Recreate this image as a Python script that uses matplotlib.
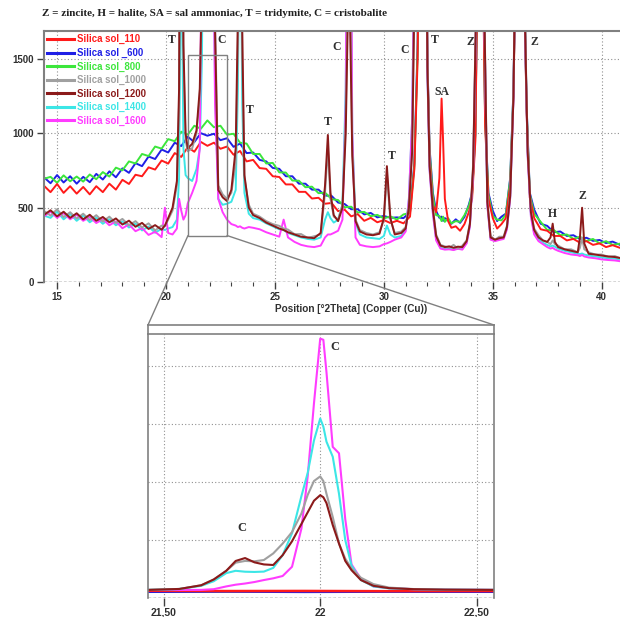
import numpy as np
import matplotlib.pyplot as plt
from matplotlib.patches import Rectangle, ConnectionPatch
from matplotlib.lines import Line2D

# ---- main pattern, amorphous samples (110, 600, 800) ----
tt_low = [14.4, 14.7, 15.0, 15.3, 15.6, 15.9, 16.2, 16.5, 16.8, 17.1,
          17.4, 17.7, 18.0, 18.3, 18.6, 18.9, 19.2, 19.5, 19.8, 20.1,
          20.4, 20.7, 21.0, 21.3, 21.6, 21.9, 22.2, 22.5, 22.8, 23.1,
          23.4, 23.7, 24.0, 24.3, 24.6, 24.9, 25.2, 25.5, 25.8, 26.1,
          26.4, 26.7, 27.0, 27.3, 27.6, 27.9, 28.2, 28.5, 28.8, 29.1,
          29.4, 29.7, 30.0, 30.3, 30.6, 30.9, 31.2, 31.4, 31.55, 31.65,
          31.77, 31.9, 32.0, 32.1, 32.25, 32.4, 32.55, 32.65, 32.72, 32.8,
          32.95, 33.1, 33.3, 33.5, 33.7, 33.9, 34.05, 34.2, 34.3, 34.42,
          34.55, 34.65, 34.8, 35.0, 35.2, 35.4, 35.6, 35.8, 35.95, 36.05,
          36.25, 36.45, 36.55, 36.7, 36.9, 37.2, 37.5, 37.8, 38.1, 38.4,
          38.7, 39.0, 39.3, 39.6, 39.9, 40.2, 40.5, 40.84]

i_110 = [648, 605, 660, 600, 645, 595, 640, 590, 645, 605,
         662, 622, 688, 660, 722, 712, 772, 757, 818, 797,
         868, 842, 908, 877, 943, 917, 938, 897, 912, 857,
         882, 812, 822, 767, 762, 712, 707, 657, 657, 607,
         607, 562, 567, 527, 532, 477, 487, 442, 457, 412,
         432, 402, 417, 397, 412, 395, 440, 760, 1500, 2900,
         9000, 3000, 1500, 850, 520, 470, 700, 1235, 950, 560,
         410, 365, 375, 345, 390, 470, 560, 950, 2100, 9000,
         2100, 1050, 560, 430, 360, 390, 430, 650, 1250, 2150,
         12000, 1950, 1150, 570, 430, 355, 345, 310, 310, 280,
         290, 265, 275, 250, 260, 235, 248, 230]

i_600 = [705, 665, 720, 670, 712, 662, 708, 672, 728, 690,
         745, 705, 765, 735, 800, 780, 845, 828, 892, 872,
         938, 915, 978, 942, 1002, 985, 998, 955, 968, 910,
         932, 868, 872, 822, 812, 768, 762, 712, 712, 662,
         662, 622, 622, 582, 580, 535, 525, 490, 490, 455,
         465, 435, 445, 432, 435, 430, 470, 800, 1600, 3000,
         9000, 3000, 1500, 900, 600, 478, 432, 440, 412, 430,
         418, 392, 422, 398, 438, 520, 600, 1000, 2200, 9000,
         2200, 1100, 600, 480, 410, 440, 460, 700, 1300, 2200,
         12000, 2000, 1200, 600, 488, 392, 378, 335, 340, 310,
         315, 290, 298, 277, 283, 262, 272, 250]

i_800 = [695, 708, 668, 718, 678, 710, 676, 724, 692, 740,
         710, 770, 752, 812, 798, 862, 848, 912, 898, 962,
         948, 1012, 992, 1052, 1032, 1088, 1042, 1052, 992, 998,
         938, 932, 862, 862, 798, 802, 738, 737, 683, 682,
         638, 642, 598, 602, 558, 552, 503, 507, 468, 472,
         443, 452, 428, 442, 420, 455, 465, 780, 1550, 2950,
         9000, 2950, 1450, 880, 580, 450, 445, 410, 440, 405,
         430, 395, 410, 405, 450, 510, 590, 990, 2150, 9000,
         2150, 1080, 590, 445, 420, 415, 455, 690, 1280, 2180,
         12000, 1980, 1180, 590, 460, 405, 350, 350, 315, 320,
         290, 305, 275, 290, 260, 275, 250, 258]

# ---- main pattern, crystallised samples (1000 - 1600) ----
tt_high = [14.4, 14.7, 15.0, 15.3, 15.6, 15.9, 16.2, 16.5, 16.8, 17.1,
           17.4, 17.7, 18.0, 18.3, 18.6, 18.9, 19.2, 19.5, 19.8, 19.95,
           20.1, 20.3, 20.5, 20.6, 20.7, 20.8, 20.9, 21.0, 21.2, 21.4,
           21.55, 21.65, 21.8, 21.95, 22.1, 22.25, 22.4, 22.6, 22.8, 23.0,
           23.2, 23.3, 23.4, 23.5, 23.6, 23.8, 24.0, 24.3, 24.6, 24.9,
           25.2, 25.4, 25.6, 25.9, 26.2, 26.5, 26.8, 27.1, 27.3, 27.43,
           27.55, 27.7, 27.9, 28.1, 28.25, 28.4, 28.55, 28.7, 28.9, 29.2,
           29.5, 29.8, 30.0, 30.14, 30.3, 30.5, 30.8, 31.0, 31.15, 31.3,
           31.45, 31.6, 31.77, 31.9, 32.0, 32.1, 32.25, 32.4, 32.6, 32.8,
           33.0, 33.2, 33.4, 33.6, 33.8, 33.95, 34.1, 34.25, 34.42, 34.6,
           34.75, 34.9, 35.1, 35.3, 35.5, 35.65, 35.8, 35.95, 36.1, 36.25,
           36.45, 36.6, 36.75, 36.9, 37.1, 37.3, 37.5, 37.65, 37.75, 37.85,
           38.0, 38.3, 38.6, 38.9, 39.0, 39.1, 39.2, 39.4, 39.7, 40.0,
           40.3, 40.6, 40.84]

i_1000 = [478, 447, 490, 437, 470, 427, 460, 417, 450, 407,
          440, 397, 425, 382, 410, 367, 395, 347, 380, 375,
          420, 480, 650, 1200, 4000, 1500, 950, 880, 900, 1000,
          1250, 1900, 5000, 9000, 4500, 1800, 650, 590, 560, 600,
          800, 1600, 4000, 1500, 700, 520, 460, 440, 410, 390,
          378, 360, 353, 322, 323, 297, 308, 320, 600, 900,
          560, 440, 420, 520, 1100, 2500, 900, 420, 350, 330,
          320, 335, 420, 720, 420, 330, 340, 370, 520, 900,
          2500, 4000, 9000, 3500, 1500, 800, 500, 320, 250, 240,
          230, 250, 225, 245, 280, 400, 800, 2000, 9000, 2000,
          550, 310, 285, 305, 305, 380, 600, 1300, 3000, 12000,
          2000, 900, 480, 360, 315, 280, 270, 255, 280, 255,
          245, 220, 220, 200, 230, 300, 220, 200, 185, 185,
          170, 175, 160]

i_1200 = [452, 483, 442, 473, 432, 463, 422, 453, 412, 438,
          402, 428, 387, 413, 372, 398, 357, 383, 352, 380,
          430, 500, 680, 1300, 4500, 1600, 1000, 900, 930, 1020,
          1300, 2000, 5200, 9000, 4200, 1700, 620, 570, 545, 620,
          900, 1800, 5000, 1700, 720, 500, 450, 430, 400, 380,
          360, 350, 335, 320, 305, 300, 295, 330, 650, 990,
          600, 450, 410, 500, 1000, 2200, 850, 410, 340, 320,
          315, 325, 430, 780, 430, 320, 330, 360, 500, 880,
          2400, 3900, 9000, 3400, 1450, 780, 490, 310, 245, 235,
          240, 230, 238, 235, 275, 390, 780, 1950, 9000, 1950,
          540, 300, 285, 295, 300, 370, 580, 1250, 2900, 12000,
          1950, 880, 470, 350, 300, 280, 270, 300, 393, 270,
          235, 220, 210, 200, 300, 500, 260, 190, 185, 178,
          172, 168, 162]

i_1400 = [447, 432, 473, 422, 458, 412, 448, 402, 433, 392,
          423, 382, 408, 367, 393, 347, 373, 332, 358, 350,
          360, 370, 420, 700, 2500, 900, 720, 700, 680, 760,
          900, 1500, 4500, 9000, 4000, 1300, 560, 520, 527, 540,
          620, 1300, 3000, 1200, 600, 460, 430, 420, 395, 375,
          355, 350, 330, 315, 300, 290, 285, 300, 420, 470,
          430, 400, 420, 520, 1300, 4000, 1000, 400, 320, 300,
          295, 290, 310, 380, 320, 300, 310, 350, 560, 1100,
          2800, 4500, 9000, 3300, 1400, 760, 470, 290, 230, 222,
          225, 218, 228, 222, 265, 380, 760, 1900, 9000, 1900,
          520, 290, 280, 288, 295, 360, 570, 1250, 2950, 12000,
          1900, 860, 450, 330, 285, 265, 250, 240, 245, 238,
          225, 210, 200, 190, 188, 192, 185, 178, 172, 165,
          160, 157, 152]

i_1600 = [442, 473, 432, 463, 422, 453, 412, 438, 397, 423,
          382, 408, 362, 388, 342, 363, 317, 338, 302, 500,
          330, 320, 360, 560, 480, 420, 450, 530, 600, 680,
          900, 2500, 6000, 9000, 3500, 1200, 560, 470, 420, 390,
          380, 370, 375, 365, 360, 370, 365, 355, 335, 320,
          305, 420, 300, 270, 250, 240, 235, 245, 300, 320,
          320, 330, 345, 420, 1200, 5000, 1000, 300, 250, 240,
          235, 240, 255, 260, 270, 285, 300, 340, 560, 1100,
          2800, 4600, 9000, 3300, 1400, 750, 460, 280, 225, 218,
          220, 215, 224, 218, 260, 375, 750, 1900, 9000, 1900,
          515, 285, 275, 283, 290, 355, 565, 1240, 2950, 12000,
          1900, 850, 440, 320, 275, 255, 235, 225, 230, 220,
          210, 195, 185, 180, 175, 182, 172, 165, 160, 152,
          148, 145, 140]

# ---- zoom on the 22 deg cristobalite reflection ----
tt_zoom = [21.45, 21.55, 21.62, 21.66, 21.70, 21.73, 21.76, 21.79, 21.82, 21.85,
           21.88, 21.91, 21.94, 21.96, 21.98, 22.0, 22.01, 22.02, 22.04, 22.06,
           22.08, 22.10, 22.13, 22.17, 22.22, 22.30, 22.40, 22.555]

z_1000 = [700, 780, 1100, 1600, 2350, 3050, 3200, 3170, 3280, 3850,
          4700, 5700, 7300, 8900, 10100, 10500, 10100, 9000, 7000, 4700,
          3400, 2550, 1750, 1200, 900, 770, 720, 700]
z_1200 = [700, 780, 1100, 1600, 2350, 3200, 3450, 3080, 2900, 2850,
          3700, 4900, 6400, 7400, 8400, 8880, 8700, 8200, 6300, 4700,
          3200, 2400, 1550, 1050, 850, 760, 720, 700]
z_1400 = [700, 780, 1050, 1450, 2150, 2350, 2270, 2250, 2280, 2600,
          3700, 5600, 8800, 10800, 13600, 15500, 14800, 13500, 12200, 9000,
          5000, 2800, 1550, 1000, 830, 760, 720, 700]
z_1600 = [690, 690, 700, 760, 1000, 1150, 1250, 1380, 1550, 1700,
          1900, 2700, 6000, 10500, 16800, 22400, 22300, 19500, 13050, 12500,
          6800, 2900, 1650, 1000, 850, 760, 720, 700]

tt_zoom_flat = [21.45, 21.7, 21.95, 22.2, 22.555]
z_110 = [620, 600, 610, 590, 600]
z_600 = [520, 540, 510, 530, 520]
z_800 = [570, 560, 580, 560, 570]

names = ['Silica sol_110', 'Silica sol _600', 'Silica sol_800', 'Silica sol_1000',
         'Silica sol_1200', 'Silica sol_1400', 'Silica sol_1600']
colors = ['#ff1a1a', '#1f1fe6', '#3ce63c', '#a0a0a0', '#8b1a1a', '#3ce6e6', '#ff3cff']

peak_tags = ['T', 'C', 'T', 'C', 'T', 'T', 'C', 'T', 'SA', 'Z', 'Z', 'H', 'Z']
peak_x = [20.27, 22.57, 23.85, 27.85, 27.43, 30.37, 30.97, 32.34, 32.67, 33.95, 36.93, 37.76, 39.09]
peak_y = [1627, 1627, 1160, 1580, 1080, 847, 1560, 1627, 1280, 1613, 1613, 460, 580]

zoom_tags = ['C', 'C']
zoom_x = [21.749, 22.047]
zoom_y = [6045, 21677]

plt.rcParams['font.family'] = ['Liberation Sans', 'DejaVu Sans']
plt.rcParams['font.weight'] = 'bold'

W, H = 620, 617
fig = plt.figure(figsize=(W / 100, H / 100), dpi=100)


def px_box(l, t, r, b):
    return [l / W, 1 - b / H, (r - l) / W, (b - t) / H]


ax = fig.add_axes(px_box(44, 31, 620, 282))
axz = fig.add_axes(px_box(148, 334, 494, 598))

# main plot
main_series = [(tt_low, i_600, 1), (tt_low, i_800, 2), (tt_low, i_110, 0),
               (tt_high, i_1400, 5), (tt_high, i_1600, 6), (tt_high, i_1000, 3),
               (tt_high, i_1200, 4)]
handles = {}
for xs, ys, k in main_series:
    ln, = ax.plot(xs, ys, color=colors[k], lw=1.4, label=names[k])
    handles[k] = ln

ax.set_xlim(14.4, 40.84)
ax.set_ylim(0, 1690)
ax.set_xticks([15, 20, 25, 30, 35, 40])
ax.set_xticks(np.arange(15, 41), minor=True)
ax.set_yticks([0, 500, 1000, 1500])
ax.tick_params(axis='both', which='major', direction='out', length=5, width=1,
               color='#404040', labelsize=7, labelcolor='#303030', pad=2)
ax.tick_params(axis='x', which='minor', direction='out', length=3, width=0.8, color='#404040')
ax.grid(True, which='major', ls=(0, (1, 2)), color='#909090', lw=0.8)
for s in ['right', 'bottom']:
    ax.spines[s].set_visible(False)
for s in ['left', 'top']:
    ax.spines[s].set_color('#808080')
    ax.spines[s].set_linewidth(1.5)
ax.axhline(0, color='#404040', lw=1, ls=(0, (2, 1.5)), zorder=5)
ax.set_xlabel('Position [°2Theta] (Copper (Cu))', fontsize=7.2, fontweight='bold', color='#303030')
ax.xaxis.set_label_coords(0.533, -0.088)

leg = ax.legend([handles[k] for k in range(7)], names, loc='upper left',
                bbox_to_anchor=(0.0, 1.0), frameon=False,
                prop={'size': 6.9, 'weight': 'bold'},
                handlelength=2.8, handletextpad=0.3, labelspacing=0.36,
                borderaxespad=0.15, borderpad=0.2)
for txt, c in zip(leg.get_texts(), colors):
    txt.set_color(c)
for ln in leg.get_lines():
    ln.set_linewidth(2.2)

for tag, x, y in zip(peak_tags, peak_x, peak_y):
    ax.text(x, y, tag, family='Liberation Serif', weight='bold', fontsize=8.5,
            color='#303030', ha='center', va='center')

ax.add_patch(Rectangle((21.01, 313), 1.79, 1214, fill=False, ec='#808080', lw=1, zorder=6))

fig.text(42 / W, 1 - 14 / H,
         'Z = zincite, H = halite, SA = sal ammoniac, T = tridymite, C = cristobalite',
         family='Liberation Serif', weight='bold', fontsize=8.0, color='#202020',
         ha='left', va='center')

# zoom inset
axz.plot(tt_zoom_flat, z_800, color=colors[2], lw=1.5)
axz.plot(tt_zoom_flat, z_600, color=colors[1], lw=1.5)
axz.plot(tt_zoom_flat, z_110, color=colors[0], lw=1.8)
axz.plot(tt_zoom, z_1600, color=colors[6], lw=1.5)
axz.plot(tt_zoom, z_1400, color=colors[5], lw=1.5)
axz.plot(tt_zoom, z_1000, color=colors[3], lw=1.5)
axz.plot(tt_zoom, z_1200, color=colors[4], lw=1.5)

axz.set_xlim(21.45, 22.555)
axz.set_ylim(0, 22800)
axz.set_xticks([21.5, 22.0, 22.5])
axz.set_xticklabels(['21,50', '22', '22,50'], fontweight='bold')
axz.set_yticks([0, 5000, 10000, 15000, 20000])
axz.tick_params(axis='y', length=0, labelleft=False)
axz.tick_params(axis='x', direction='out', length=6, width=1, color='#404040',
                labelsize=7.5, labelcolor='#303030', pad=1)
axz.grid(True, ls=(0, (1, 2)), color='#909090', lw=0.8)
axz.spines['bottom'].set_visible(False)
for s in ['left', 'right', 'top']:
    axz.spines[s].set_color('#808080')
    axz.spines[s].set_linewidth(1.2)
axz.axhline(0, color='#404040', lw=1, ls=(0, (2, 1.5)), zorder=5)
for tag, x, y in zip(zoom_tags, zoom_x, zoom_y):
    axz.text(x, y, tag, family='Liberation Serif', weight='bold', fontsize=9,
             color='#303030', ha='center', va='center')

# link between the boxed region and the inset
top_y = 1 - 325 / H
for xa, xb in [(21.01, 148 / W), (22.80, 494 / W)]:
    fig.add_artist(ConnectionPatch(xyA=(xa, 313), coordsA=ax.transData,
                                   xyB=(xb, top_y), coordsB=fig.transFigure,
                                   color='#808080', lw=1))
    fig.add_artist(Line2D([xb, xb], [top_y, 1 - 334 / H], transform=fig.transFigure,
                          color='#808080', lw=1.2))
fig.add_artist(Line2D([148 / W, 494 / W], [top_y, top_y], transform=fig.transFigure,
                      color='#808080', lw=1.2))

fig.savefig('out.png', dpi=100)
